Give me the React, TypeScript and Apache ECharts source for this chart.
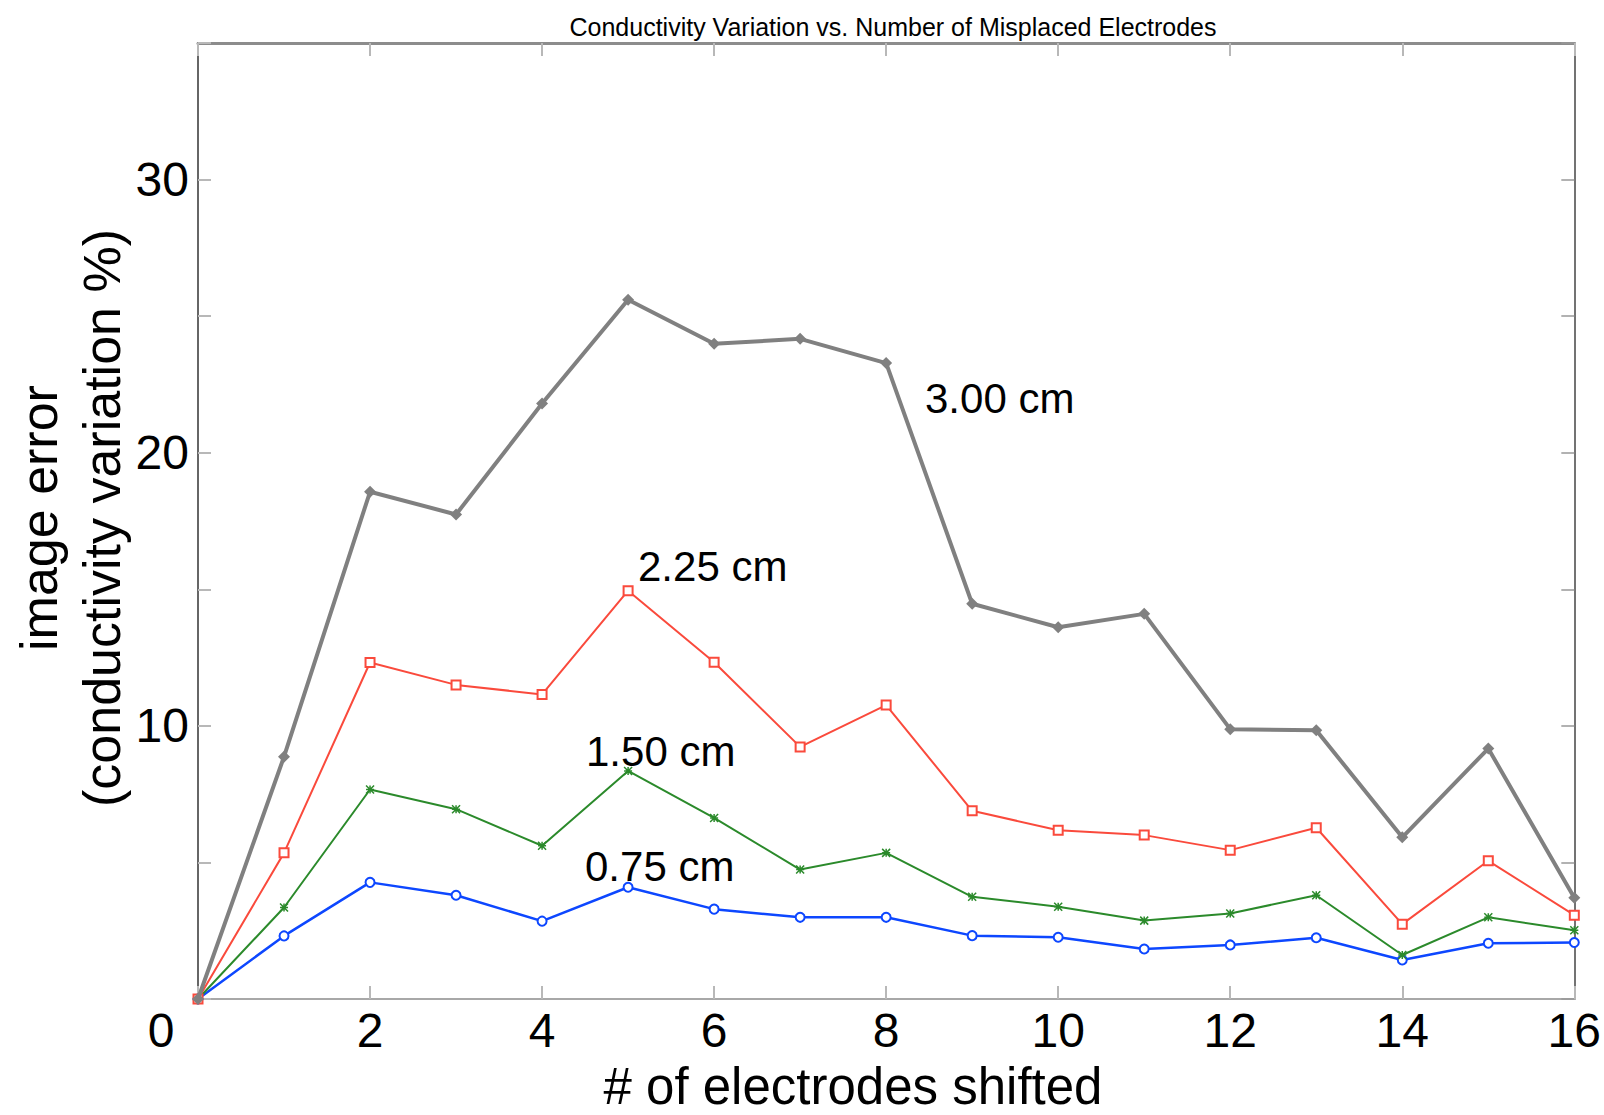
import React, { useEffect, useRef } from "react";
import * as echarts from "echarts";

const electrodesShifted = [0, 1, 2, 3, 4, 5, 6, 7, 8, 9, 10, 11, 12, 13, 14, 15, 16];
const err300 = [0, 8.87, 18.57, 17.74, 21.8, 25.6, 23.99, 24.17, 23.28, 14.47, 13.61, 14.1, 9.88, 9.84, 5.92, 9.17, 3.71];
const err225 = [0, 5.35, 12.32, 11.5, 11.15, 14.95, 12.33, 9.23, 10.76, 6.89, 6.18, 6.0, 5.45, 6.27, 2.74, 5.06, 3.07];
const err150 = [0, 3.35, 7.67, 6.95, 5.61, 8.35, 6.63, 4.74, 5.35, 3.74, 3.38, 2.87, 3.13, 3.8, 1.61, 2.99, 2.52];
const err075 = [0, 2.31, 4.27, 3.8, 2.85, 4.09, 3.29, 2.99, 2.99, 2.32, 2.26, 1.83, 1.98, 2.24, 1.43, 2.04, 2.07];
const seriesNames = ["3.00 cm", "2.25 cm", "1.50 cm", "0.75 cm"];
const yTickLabels = [10, 20, 30];

const FONT = "'Liberation Sans', Arial, Helvetica, sans-serif";

const pairs = (ys: number[]) => electrodesShifted.map((x, i) => [x, ys[i]]);

export default function App() {
  const ref = useRef<HTMLDivElement>(null);
  useEffect(() => {
    if (!ref.current) return;
    const chart = echarts.init(ref.current, null, { renderer: "svg" });
    const tickStyle = { color: "#b8b8b8", width: 2 };
    const option: any = {
      animation: false,
      backgroundColor: "#ffffff",
      title: {
        text: "Conductivity Variation vs. Number of Misplaced Electrodes",
        left: 888,
        top: 9,
        textAlign: "center",
        textStyle: { fontFamily: FONT, fontSize: 25, fontWeight: "normal", color: "#000", lineHeight: 25 },
      },
      grid: { left: 198, right: 27, top: 43, bottom: 116 },
      xAxis: [
        {
          type: "value",
          min: 0,
          max: 16,
          interval: 2,
          position: "bottom",
          axisLine: { show: true, onZero: false, lineStyle: { color: "#a8a8a8", width: 2 } },
          axisTick: { show: true, inside: true, length: 13, lineStyle: tickStyle },
          axisLabel: {
            fontFamily: FONT,
            fontSize: 48,
            color: "#000",
            margin: 7,
            formatter: (v: number) => (v === 0 ? "" : String(v)),
          },
          splitLine: { show: false },
        },
        {
          type: "value",
          min: 0,
          max: 16,
          interval: 2,
          position: "top",
          axisLine: { show: true, onZero: false, lineStyle: { color: "#8c8c8c", width: 3 } },
          axisTick: { show: true, inside: true, length: 13, lineStyle: tickStyle },
          axisLabel: { show: false },
          splitLine: { show: false },
        },
      ],
      yAxis: [
        {
          type: "value",
          min: 0,
          max: 35,
          interval: 5,
          position: "left",
          axisLine: { show: true, onZero: false, lineStyle: { color: "#333", width: 1.5 } },
          axisTick: { show: true, inside: true, length: 13, lineStyle: tickStyle },
          axisLabel: {
            fontFamily: FONT,
            fontSize: 48,
            color: "#000",
            margin: 9,
            formatter: (v: number) => (yTickLabels.indexOf(v) >= 0 ? String(v) : ""),
          },
          splitLine: { show: false },
        },
        {
          type: "value",
          min: 0,
          max: 35,
          interval: 5,
          position: "right",
          axisLine: { show: true, onZero: false, lineStyle: { color: "#444", width: 1.5 } },
          axisTick: { show: true, inside: true, length: 13, lineStyle: { color: "#999", width: 1.5 } },
          axisLabel: { show: false },
          splitLine: { show: false },
        },
      ],
      series: [
        {
          name: seriesNames[0],
          type: "line",
          data: pairs(err300),
          symbol: "diamond",
          symbolSize: 12,
          lineStyle: { color: "#808080", width: 4 },
          itemStyle: { color: "#808080" },
          z: 4,
        },
        {
          name: seriesNames[1],
          type: "line",
          data: pairs(err225),
          symbol: "emptyRect",
          symbolSize: 9,
          lineStyle: { color: "#fa4a3c", width: 2 },
          itemStyle: { color: "#fa4a3c", borderColor: "#fa4a3c", borderWidth: 2 },
          z: 3,
        },
        {
          name: seriesNames[2],
          type: "line",
          data: pairs(err150),
          symbol: "path://M0,0L10,10M10,0L0,10M5,0L5,10M0,5L10,5",
          symbolSize: 8,
          lineStyle: { color: "#2b8a2b", width: 2 },
          itemStyle: { color: "#2b8a2b", borderColor: "#2b8a2b", borderWidth: 1.5 },
          z: 2,
        },
        {
          name: seriesNames[3],
          type: "line",
          data: pairs(err075),
          symbol: "emptyCircle",
          symbolSize: 9,
          lineStyle: { color: "#0d47ff", width: 2.5 },
          itemStyle: { color: "#0d47ff", borderColor: "#0d47ff", borderWidth: 2 },
          z: 1,
        },
      ],
      graphic: [
        {
          type: "text",
          x: 161,
          y: 1030,
          style: { text: "0", fontFamily: FONT, fontSize: 48, fill: "#000", textAlign: "center", textVerticalAlign: "middle" },
        },
        {
          type: "text",
          x: 853,
          y: 1086,
          style: {
            text: "# of electrodes shifted",
            fontFamily: FONT,
            fontSize: 51,
            lineHeight: 51,
            fill: "#000",
            textAlign: "center",
            textVerticalAlign: "middle",
          },
        },
        {
          type: "text",
          x: 70,
          y: 518,
          rotation: Math.PI / 2,
          style: {
            text: "image error\n(conductivity variation %)",
            fontFamily: FONT,
            fontSize: 52,
            lineHeight: 63,
            fill: "#000",
            textAlign: "center",
            textVerticalAlign: "middle",
          },
        },
        {
          type: "text",
          x: 925,
          y: 398,
          style: { text: seriesNames[0], fontFamily: FONT, fontSize: 42, fill: "#000", textAlign: "left", textVerticalAlign: "middle" },
        },
        {
          type: "text",
          x: 638,
          y: 566,
          style: { text: seriesNames[1], fontFamily: FONT, fontSize: 42, fill: "#000", textAlign: "left", textVerticalAlign: "middle" },
        },
        {
          type: "text",
          x: 586,
          y: 751,
          style: { text: seriesNames[2], fontFamily: FONT, fontSize: 42, fill: "#000", textAlign: "left", textVerticalAlign: "middle" },
        },
        {
          type: "text",
          x: 585,
          y: 866,
          style: { text: seriesNames[3], fontFamily: FONT, fontSize: 42, fill: "#000", textAlign: "left", textVerticalAlign: "middle" },
        },
      ],
    };
    chart.setOption(option);
    return () => chart.dispose();
  }, []);
  return (
    <div
      ref={ref}
      style={{ position: "fixed", left: 0, top: 0, width: 1604, height: 1115, background: "#fff" }}
    />
  );
}
